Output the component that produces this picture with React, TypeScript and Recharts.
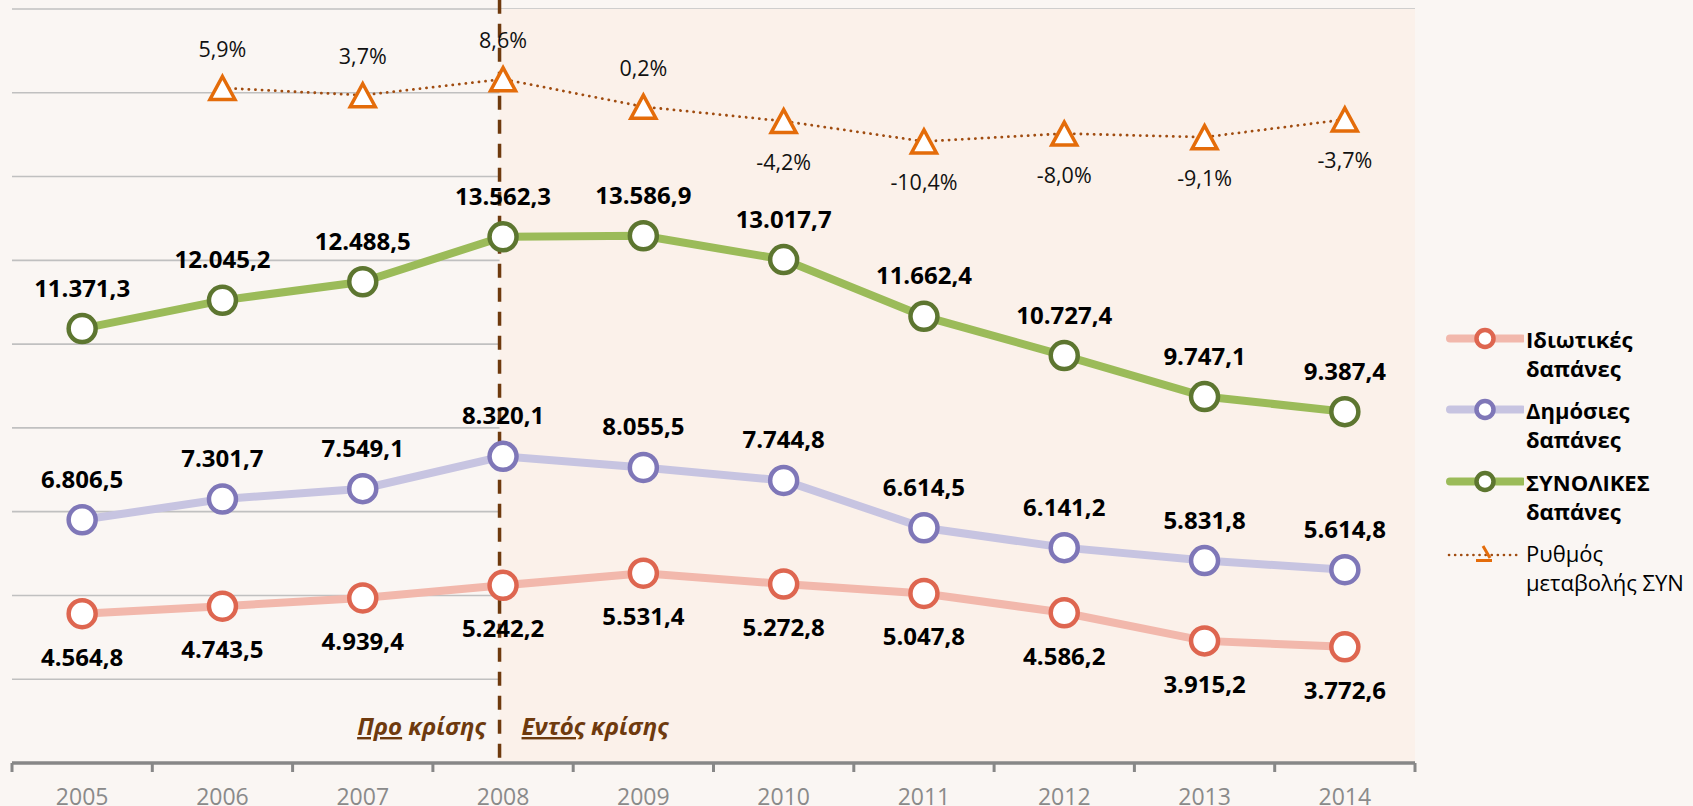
import React from 'react';
import {
  ComposedChart,
  Line,
  XAxis,
  YAxis,
  CartesianGrid,
  ReferenceArea,
  ReferenceLine,
  LabelList,
  Legend,
} from 'recharts';

// ---------- data ----------
const years = [2005, 2006, 2007, 2008, 2009, 2010, 2011, 2012, 2013, 2014];
const privateSpend = [4564.8, 4743.5, 4939.4, 5242.2, 5531.4, 5272.8, 5047.8, 4586.2, 3915.2, 3772.6];
const publicSpend = [6806.5, 7301.7, 7549.1, 8320.1, 8055.5, 7744.8, 6614.5, 6141.2, 5831.8, 5614.8];
const totalSpend = [11371.3, 12045.2, 12488.5, 13562.3, 13586.9, 13017.7, 11662.4, 10727.4, 9747.1, 9387.4];
const totalChangePct: (number | null)[] = [null, 5.9, 3.7, 8.6, 0.2, -4.2, -10.4, -8.0, -9.1, -3.7];

const seriesNames = {
  priv: 'Ιδιωτικές δαπάνες',
  pub: 'Δημόσιες δαπάνες',
  total: 'ΣΥΝΟΛΙΚΕΣ δαπάνες',
  rate: 'Ρυθμός μεταβολής ΣΥΝ',
};
const seriesOrder = ['priv', 'pub', 'total', 'rate'];

const yearTicks = years;
const xDomain: [number, number] = [2004.5, 2014.5];
const valueDomain: [number, number] = [1000, 19000];
const valueGridTicks = [1000, 3000, 5000, 7000, 9000, 11000, 13000, 15000, 17000, 19000];
const pctDomain: [number, number] = [-200, 30];
const crisisStart = 2007.975;
const crisisLineTop = 19220;
const preCrisisLabel = ['Προ', ' κρίσης'];
const inCrisisLabel = ['Εντός', ' κρίσης'];

const data = years.map((year, i) => ({
  year,
  priv: privateSpend[i],
  pub: publicSpend[i],
  total: totalSpend[i],
  rate: totalChangePct[i],
}));

// ---------- layout & styles ----------
const CHART_W = 1693;
const CHART_H = 806;
const MARGIN = { top: 9, right: 278, bottom: 0, left: 12 };
const FONT = "'Open Sans', 'Noto Sans', sans-serif";
const styles: Record<string, { line: string; marker: string }> = {
  priv: { line: '#F2B8AC', marker: '#DE6650' },
  pub: { line: '#C7C4E1', marker: '#7F77B8' },
  total: { line: '#9BBB59', marker: '#5D7630' },
  rate: { line: '#A04C10', marker: '#E46C0A' },
};
const BG = '#FAF6F3';
const CRISIS_BG = '#FBF1EA';
const CRISIS_COLOR = '#6E3A0E';
const AXIS_COLOR = '#878787';

// ---------- formatters ----------
const fmtNum = (v: number) => {
  const [intPart, dec] = Math.abs(v).toFixed(1).split('.');
  const withDots = intPart.replace(/\B(?=(\d{3})+(?!\d))/g, '.');
  return (v < 0 ? '-' : '') + withDots + ',' + dec;
};
const fmtPct = (v: number) => (v < 0 ? '-' : '') + Math.abs(v).toFixed(1).replace('.', ',') + '%';

// ---------- renderers ----------
const makeValueLabel = (above: boolean) => (props: any) => {
  const x = props.x ?? props.viewBox?.x;
  const y = props.y ?? props.viewBox?.y;
  const { value } = props;
  if (value == null || x == null || y == null) return null;
  return (
    <text
      x={x}
      y={above ? y - 32 : y + 52}
      textAnchor="middle"
      fontFamily={FONT}
      fontSize={24}
      fontWeight={700}
      fill="#000"
    >
      {fmtNum(Number(value))}
    </text>
  );
};

const PctLabel = (props: any) => {
  const x = props.x ?? props.viewBox?.x;
  const y = props.y ?? props.viewBox?.y;
  const { value } = props;
  if (value == null || x == null || y == null) return null;
  const v = Number(value);
  return (
    <text
      x={x}
      y={v >= 0 ? y - 31 : y + 49}
      textAnchor="middle"
      fontFamily={FONT}
      fontSize={21.5}
      fill="#111"
    >
      {fmtPct(v)}
    </text>
  );
};

const TriangleDot = (props: any) => {
  const { cx, cy, value, index } = props;
  if (value == null || cx == null || cy == null) return <g key={`t-${index}`} />;
  return (
    <path
      key={`t-${index}`}
      d={`M${cx},${cy - 11.5} L${cx + 12.5},${cy + 11.5} L${cx - 12.5},${cy + 11.5} Z`}
      fill="#fff"
      stroke={styles.rate.marker}
      strokeWidth={3.5}
    />
  );
};

const EmptyTick = () => <g />;

// year label + category-boundary tick marks (Excel style "between categories")
const YearTick = (props: any) => {
  const { x, y, payload, index, visibleTicksCount } = props;
  const axisWidth =
    typeof props.width === 'number' && props.width > 0
      ? props.width
      : CHART_W - MARGIN.left - MARGIN.right;
  const half = axisWidth / (xDomain[1] - xDomain[0]) / 2;
  const isLast = index === (visibleTicksCount ?? yearTicks.length) - 1;
  return (
    <g>
      <line x1={x - half} x2={x - half} y1={y} y2={y + 9} stroke={AXIS_COLOR} strokeWidth={3} />
      {isLast && (
        <line x1={x + half} x2={x + half} y1={y} y2={y + 9} stroke={AXIS_COLOR} strokeWidth={3} />
      )}
      <text x={x} y={y + 41.5} textAnchor="middle" fontFamily={FONT} fontSize={23} fill="#8A8A8A">
        {payload.value}
      </text>
    </g>
  );
};

const CrisisLabel = (props: any) => {
  const vb = props.viewBox || {};
  const x = vb.x ?? 0;
  const bottom = (vb.y ?? 0) + (vb.height ?? 0);
  const common = {
    fontFamily: FONT,
    fontSize: 24,
    fontWeight: 700,
    fontStyle: 'italic' as const,
    fill: CRISIS_COLOR,
  };
  return (
    <g>
      <text x={x - 14} y={bottom - 28} textAnchor="end" {...common}>
        <tspan style={{ textDecoration: 'underline' }}>{preCrisisLabel[0]}</tspan>
        <tspan>{preCrisisLabel[1]}</tspan>
      </text>
      <text x={x + 22} y={bottom - 28} textAnchor="start" {...common}>
        <tspan style={{ textDecoration: 'underline' }}>{inCrisisLabel[0]}</tspan>
        <tspan>{inCrisisLabel[1]}</tspan>
      </text>
    </g>
  );
};

// ---------- legend ----------
const LegendIcon = ({ k }: { k: string }) => {
  const s = styles[k];
  if (k === 'rate') {
    return (
      <svg width={78} height={29} style={{ flex: '0 0 auto' }}>
        <line x1={3} x2={75} y1={16} y2={16} stroke={s.line} strokeWidth={2.6} strokeDasharray="0.1 6" strokeLinecap="round" />
        <path d="M37,7 L44,19 M30,21.5 L46,21.5" stroke={s.marker} strokeWidth={3} fill="none" />
      </svg>
    );
  }
  return (
    <svg width={78} height={29} style={{ flex: '0 0 auto' }}>
      <line x1={4} x2={76} y1={13.5} y2={13.5} stroke={s.line} strokeWidth={8} strokeLinecap="round" />
      <circle cx={39} cy={13.5} r={8.5} fill="#fff" stroke={s.marker} strokeWidth={4.5} />
    </svg>
  );
};

const renderLegend = (props: any) => {
  const payload: any[] = [...(props.payload || [])];
  payload.sort(
    (a, b) => seriesOrder.indexOf(String(a.dataKey)) - seriesOrder.indexOf(String(b.dataKey)),
  );
  return (
    <div style={{ display: 'flex', flexDirection: 'column', gap: 13.3 }}>
      {payload.map((entry) => {
        const k = String(entry.dataKey);
        return (
          <div key={k} style={{ display: 'flex', alignItems: 'flex-start' }}>
            <LegendIcon k={k} />
            <div
              style={{
                width: 178,
                marginLeft: 2,
                fontFamily: FONT,
                fontSize: 22,
                lineHeight: '29px',
                fontWeight: k === 'rate' ? 400 : 700,
                color: '#000',
              }}
            >
              {entry.value}
            </div>
          </div>
        );
      })}
    </div>
  );
};

export default function App() {
  return (
    <div
      style={{
        position: 'absolute',
        left: 0,
        top: 0,
        width: CHART_W,
        height: CHART_H,
        background: BG,
        fontFamily: FONT,
        overflow: 'hidden',
      }}
    >
      <ComposedChart width={CHART_W} height={CHART_H} data={data} margin={MARGIN}>
        <XAxis
          xAxisId="lab"
          type="number"
          dataKey="year"
          domain={xDomain}
          ticks={yearTicks}
          interval={0}
          height={43}
          axisLine={{ stroke: AXIS_COLOR, strokeWidth: 3.5 }}
          tickLine={false}
          tickSize={0}
          tickMargin={0}
          tick={YearTick}
          allowDataOverflow
        />
        <YAxis
          yAxisId="val"
          type="number"
          domain={valueDomain}
          ticks={valueGridTicks}
          interval={0}
          width={0}
          tick={EmptyTick}
          axisLine={false}
          tickLine={false}
          allowDataOverflow
        />
        <YAxis yAxisId="pct" orientation="right" type="number" domain={pctDomain} width={0} hide allowDataOverflow />

        <ReferenceArea
          xAxisId="lab"
          yAxisId="val"
          x1={crisisStart}
          x2={xDomain[1]}
          fill={CRISIS_BG}
          fillOpacity={1}
          stroke="none"
        />
        <CartesianGrid
          xAxisId="lab"
          yAxisId="val"
          vertical={false}
          horizontal
          stroke="#C0C0C0"
          strokeWidth={1.6}
        />

        <Line
          xAxisId="lab"
          yAxisId="val"
          dataKey="priv"
          name={seriesNames.priv}
          stroke={styles.priv.line}
          strokeWidth={8}
          dot={{ r: 13.5, fill: '#fff', stroke: styles.priv.marker, strokeWidth: 4.5 }}
          activeDot={false}
          isAnimationActive={false}
        >
          <LabelList dataKey="priv" content={makeValueLabel(false)} />
        </Line>
        <Line
          xAxisId="lab"
          yAxisId="val"
          dataKey="pub"
          name={seriesNames.pub}
          stroke={styles.pub.line}
          strokeWidth={8}
          dot={{ r: 13.5, fill: '#fff', stroke: styles.pub.marker, strokeWidth: 4.5 }}
          activeDot={false}
          isAnimationActive={false}
        >
          <LabelList dataKey="pub" content={makeValueLabel(true)} />
        </Line>
        <Line
          xAxisId="lab"
          yAxisId="val"
          dataKey="total"
          name={seriesNames.total}
          stroke={styles.total.line}
          strokeWidth={8}
          dot={{ r: 13.5, fill: '#fff', stroke: styles.total.marker, strokeWidth: 4.5 }}
          activeDot={false}
          isAnimationActive={false}
        >
          <LabelList dataKey="total" content={makeValueLabel(true)} />
        </Line>
        <Line
          xAxisId="lab"
          yAxisId="pct"
          dataKey="rate"
          name={seriesNames.rate}
          stroke={styles.rate.line}
          strokeWidth={2.8}
          strokeDasharray="0.1 6.5"
          strokeLinecap="round"
          dot={TriangleDot}
          activeDot={false}
          connectNulls={false}
          isAnimationActive={false}
        >
          <LabelList dataKey="rate" content={PctLabel} />
        </Line>

        <ReferenceLine
          xAxisId="lab"
          yAxisId="val"
          segment={[
            { x: crisisStart, y: crisisLineTop },
            { x: crisisStart, y: valueDomain[0] },
          ]}
          ifOverflow="visible"
          stroke={CRISIS_COLOR}
          strokeWidth={3.5}
          strokeDasharray="14 10"
          label={<CrisisLabel />}
        />

        <Legend
          layout="horizontal"
          verticalAlign="middle"
          align="center"
          content={renderLegend}
          wrapperStyle={{ position: 'absolute', left: 1446, top: 325, width: 250 }}
        />
      </ComposedChart>
    </div>
  );
}
